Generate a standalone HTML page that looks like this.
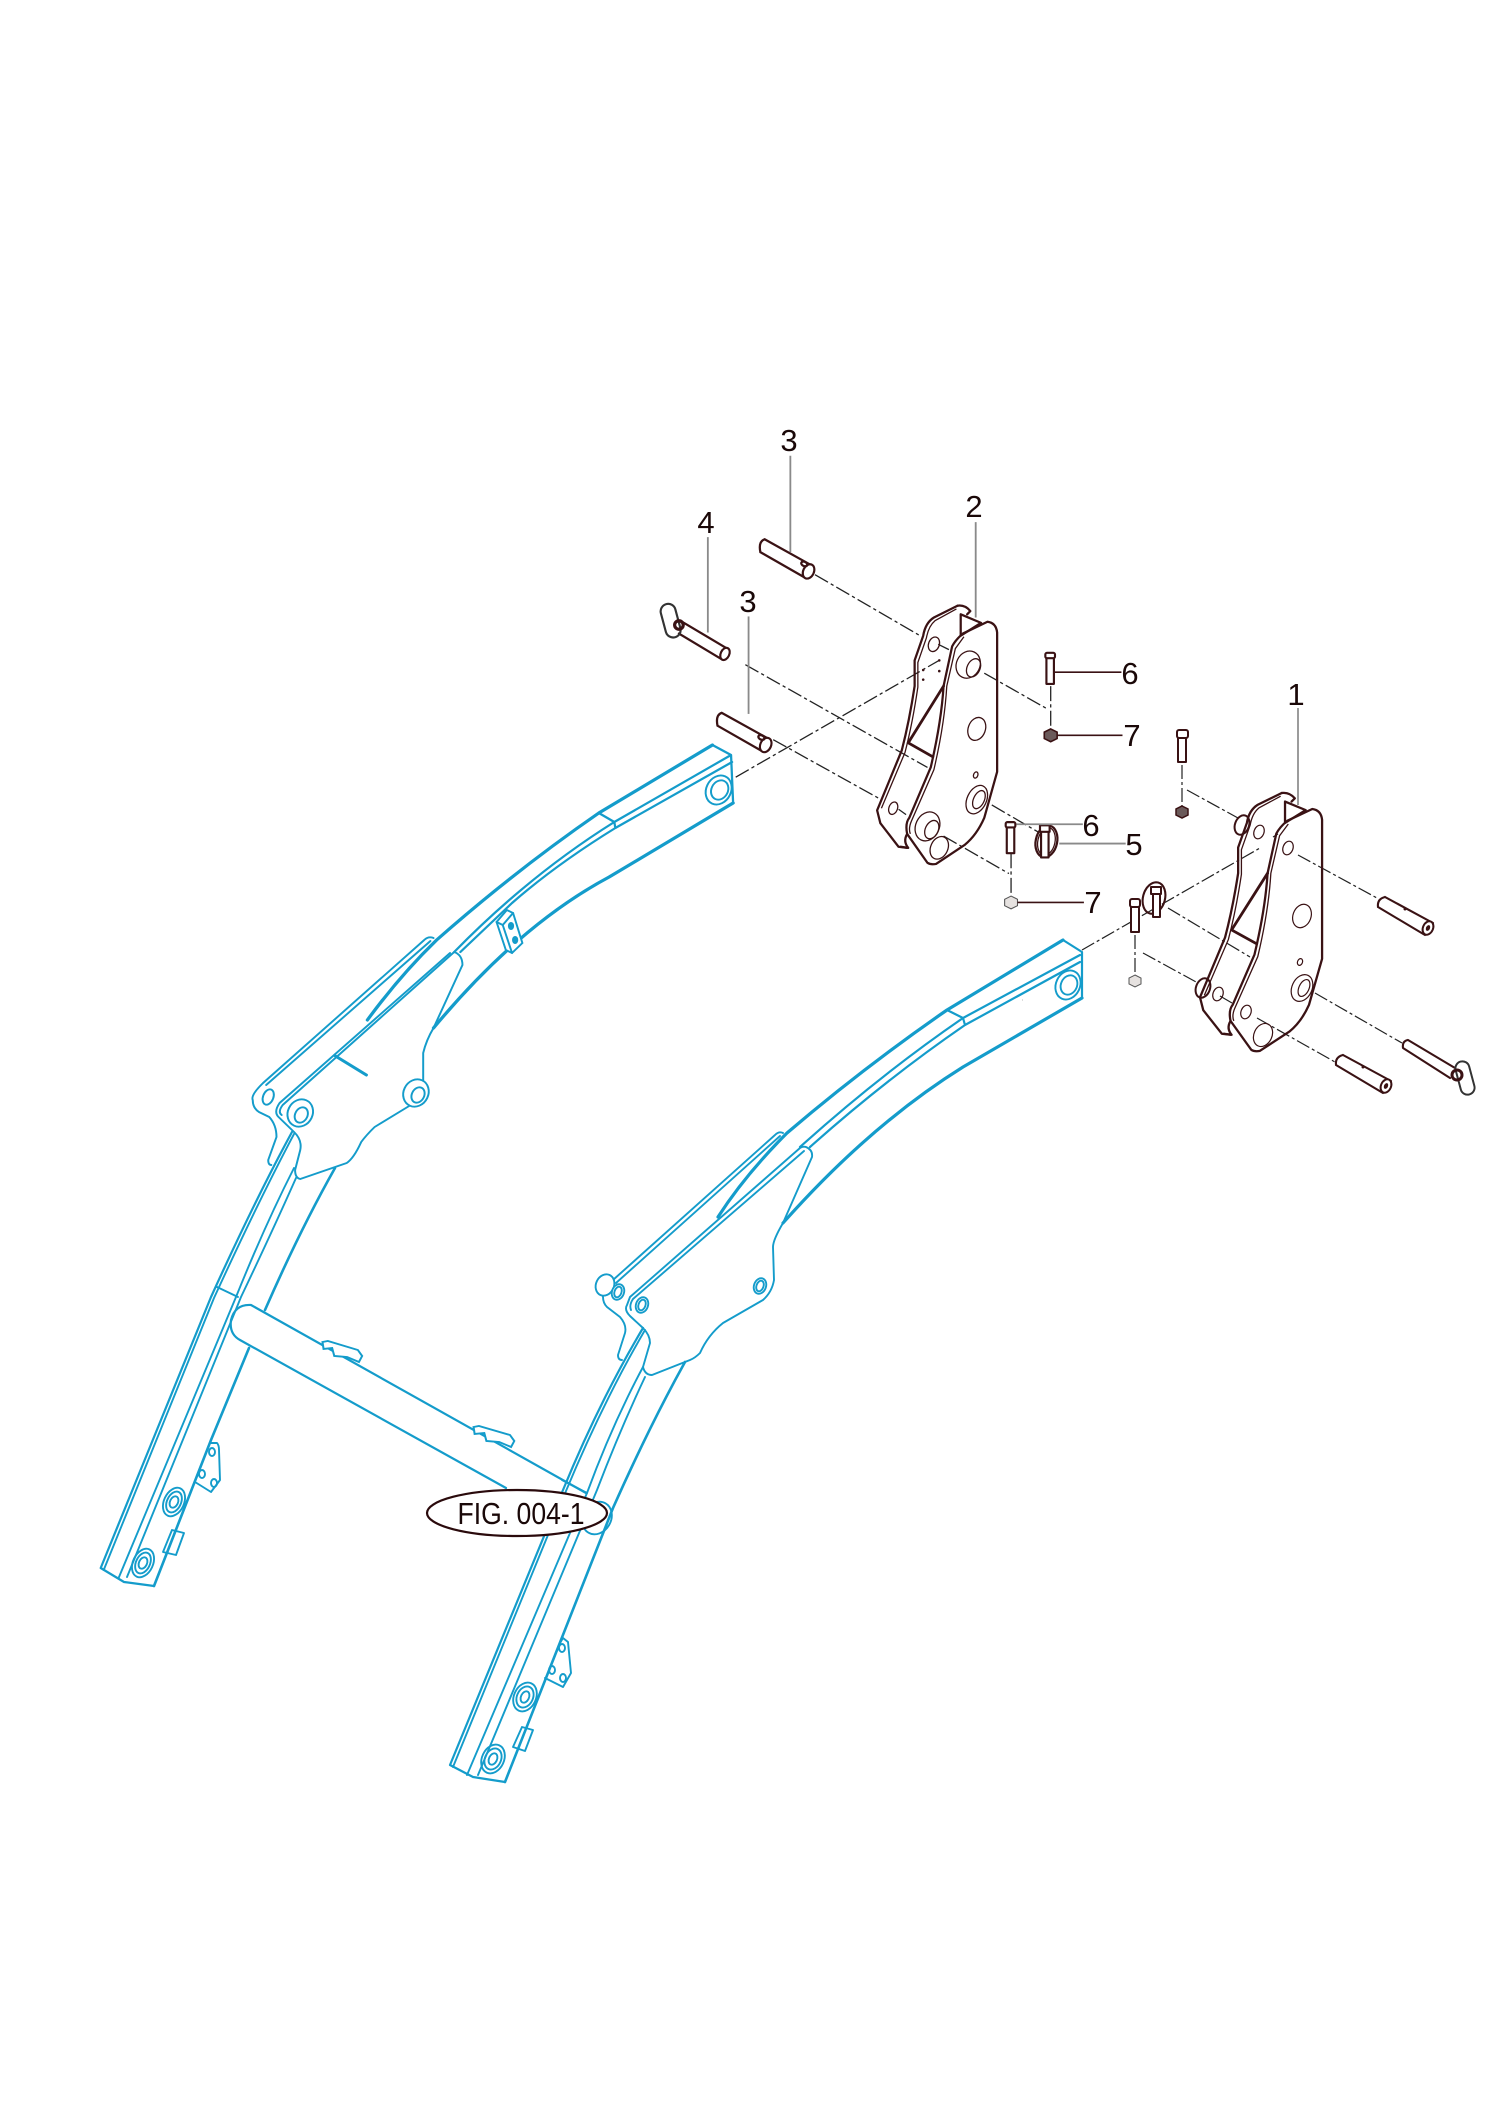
<!DOCTYPE html>
<html><head><meta charset="utf-8"><style>
html,body{margin:0;padding:0;background:#fff}
svg{display:block}
.b{fill:none;stroke:#149ccb;stroke-width:1.9;stroke-linejoin:round;stroke-linecap:round}
.bt{fill:none;stroke:#149ccb;stroke-width:3.2;stroke-linejoin:round;stroke-linecap:round}
.w{fill:#fff;stroke:#149ccb;stroke-width:1.9}
.d{fill:none;stroke:#3a1214;stroke-width:2.1;stroke-linejoin:round;stroke-linecap:round}
.dw{fill:#fff;stroke:#3a1214;stroke-width:2;stroke-linejoin:round}
.dn{fill:none;stroke:#3a1214;stroke-width:1.2}
.g{fill:none;stroke:#222;stroke-width:1.2;stroke-dasharray:14 3 3 3}
.lg{stroke:#8a8a8a;stroke-width:1.7}
.ld{stroke:#3a1214;stroke-width:1.5}
text{font-family:"Liberation Sans",sans-serif;font-size:31px;fill:#1a0808;text-anchor:middle}
</style></head><body>
<svg width="1500" height="2121" viewBox="0 0 1500 2121" xmlns="http://www.w3.org/2000/svg">
<defs>
<g id="brk">
<path class="d" d="M935 592 L913 603 Q905 608 903 620 L895 643 L895 667 Q890 700 883 727 L860 783 L863 795 L880 817 L888 818"/>
<path class="dn" d="M934 595 L914 606 Q908 611 906 622 L898 645 L898 668 Q893 702 886 729 L864 781"/>
<path class="d" d="M935 592 Q942 591 947 597 L944 600"/>
<path class="d" d="M938 600 L957 608 L938 620 Z"/>
<path class="d" d="M963 607 Q971 608 972 617 L972 747 L960 790 Q953 806 942 815 L915 833 Q910 834 907 832 L888 805 Q886 795 890 790 L910 743 Q920 700 922 667 L930 630 Q933 624 940 618 L963 607 Z"/>
<path class="dn" d="M941 621 L933 632 L925 667 Q923 702 913 745 L892 793 Q889 800 891 805"/>
<path class="d" d="M922 667 L889 720 L912 733" style="stroke-width:2.6"/>
<path class="d" d="M888 805 Q884 812 889 818 L882 817"/>
</g>
</defs>

<!-- dashed lines: right side -->
<g class="g">
<path d="M1022 1000 L1022 1000"/>
<path d="M1082 950 L1260 848 M1273 837 L1278 834"/>
<path d="M1187 790 L1238 818 M1298 855 L1377 898"/>
<path d="M1168 908 L1250 957 M1315 993 L1402 1043"/>
<path d="M1143 953 L1198 983 M1220 996 L1232 1003 M1257 1018 L1335 1062"/>
<path d="M1182 765 V808 M1135 935 V977"/>
</g>

<!-- LEFT ARM upper -->
<g transform="translate(230 0) scale(1.0331 1) translate(-230 0)">
<path class="bt" d="M697 745 L587 813 Q507 870 430 940 Q395 975 363 1020"/>
<path class="bt" d="M717 803 L597 877 Q510 925 427 1028"/>
<path class="b" style="stroke-width:2.2" d="M697 745 L715 755 L717 803 M715 755 L602 822 Q520 875 447 952 M716 762 L603 828 Q545 865 503 903 L453 952 M587 813 L602 822 L603 828"/>
<ellipse class="b" cx="703" cy="790" rx="12" ry="15" transform="rotate(25 703 790)"/>
<ellipse class="b" cx="704" cy="790" rx="8" ry="10" transform="rotate(25 704 790)"/>
<path class="w" d="M488 922 L498 910 L504 913 L513 943 L503 953 L497 950 Z"/>
<path class="b" d="M488 922 L494 925 L503 953 M494 925 L504 913"/>
<ellipse cx="502" cy="926" rx="3" ry="4" fill="#149ccb"/><ellipse cx="506" cy="940" rx="3" ry="4" fill="#149ccb"/>
<path class="b" d="M427 938 Q422 936 418 940 L262 1083 Q250 1095 252 1100 Q252 1108 258 1112 L268 1117 Q275 1125 275 1137 L267 1160 Q267 1165 270 1165"/>
<path class="b" d="M424 941 L265 1085"/>
<path class="b" d="M447 952 Q455 955 455 965 L427 1028 Q420 1040 417 1053 L417 1083"/>
<path class="b" d="M443 953 L278 1103 Q272 1112 277 1117 L292 1132 Q300 1140 298 1150 L293 1170 Q293 1178 298 1179 L343 1163 Q350 1158 357 1142 Q362 1135 370 1127 L405 1105"/>
<path class="b" d="M447 952 L281 1105 Q276 1112 280 1115"/>
<path class="b" style="stroke-width:3" d="M332 1056 L362 1075"/>
<ellipse class="b" cx="267" cy="1097" rx="5" ry="8" transform="rotate(20 267 1097)"/>
<ellipse class="w" cx="410" cy="1093" rx="12" ry="14" transform="rotate(25 410 1093)"/>
<ellipse class="b" cx="412" cy="1095" rx="6" ry="8" transform="rotate(25 412 1095)"/>
<ellipse class="w" cx="298" cy="1113" rx="12" ry="14" transform="rotate(25 298 1113)"/>
<ellipse class="b" cx="299" cy="1115" rx="6" ry="8" transform="rotate(25 299 1115)"/>
</g>

<!-- LEFT ARM lower -->
<g>
<path class="b" style="stroke-width:2.2" d="M292 1132 Q255 1200 211 1297 L100.7 1568 L124 1582 L154 1586"/>
<path class="b" d="M294 1134 Q258 1202 214 1298 L103.7 1570"/>
<path class="b" d="M294 1168 Q265 1225 236 1297 L118.6 1578"/>
<path class="b" d="M296 1178 Q272 1232 241 1297 L127 1577"/>
<path class="b" d="M217 1287 L238 1297"/>
<path class="bt" style="stroke-width:2.6" d="M335 1168 Q300 1230 265 1310 M249 1348 L211 1440 L154 1586"/>
<ellipse class="b" cx="174" cy="1502" rx="10" ry="15" transform="rotate(25 174 1502)"/><ellipse class="b" cx="174" cy="1502" rx="7" ry="11" transform="rotate(25 174 1502)"/><ellipse class="b" cx="174" cy="1502" rx="4" ry="6" transform="rotate(25 174 1502)"/>
<ellipse class="b" cx="143" cy="1563" rx="10" ry="15" transform="rotate(25 143 1563)"/><ellipse class="b" cx="143" cy="1563" rx="7" ry="11" transform="rotate(25 143 1563)"/><ellipse class="b" cx="143" cy="1563" rx="4" ry="6" transform="rotate(25 143 1563)"/>
<path class="b" d="M211 1443 L217 1443 Q219 1445 219 1450 L220 1480 L211 1492 L195 1482"/>
<ellipse class="b" cx="212" cy="1452" rx="3" ry="4"/><ellipse class="b" cx="202" cy="1474" rx="3" ry="4"/><ellipse class="b" cx="214" cy="1483" rx="3" ry="4"/>
<path class="b" d="M172 1530 L184 1533 L176 1555 L163 1552 Z"/>
</g>

<!-- CROSS TUBE -->
<path class="b" style="stroke-width:2.2" d="M251 1305 Q235 1304 231 1320 Q229 1334 240 1340 L506 1488 M251 1305 L586 1493"/>
<g transform="translate(90 0) scale(1.0714 1) translate(-90 0)">
<path class="w" d="M307 1342 L312 1341 L340 1350 L344 1356 L341 1362 L330 1357 L318 1356 L316 1348 L308 1349 Z"/>
<path class="w" d="M448 1427 L453 1426 L482 1435 L486 1441 L483 1447 L472 1442 L460 1441 L458 1433 L449 1434 Z"/>
</g>

<!-- RIGHT ARM -->
<g>
<path class="bt" d="M1063 940 L947 1010 Q863 1068 787 1133 Q745 1175 718 1217"/>
<path class="bt" d="M1082 998 L963 1067 Q870 1125 783 1223"/>
<path class="b" style="stroke-width:2.2" d="M1063 940 L1082 952 L1082 998 M1080 955 L963 1018 Q880 1075 800 1147 M1080 962 L965 1025 Q885 1080 810 1147 M947 1010 L963 1018 L965 1025"/>
<ellipse class="b" cx="1068" cy="985" rx="12" ry="15" transform="rotate(25 1068 985)"/>
<ellipse class="b" cx="1069" cy="985" rx="8" ry="10" transform="rotate(25 1069 985)"/>
<path class="b" d="M783 1133 Q779 1131 775 1135 L613 1280 Q602 1292 603 1297 Q603 1303 607 1307 L620 1317 Q627 1325 625 1333 L618 1355 Q618 1360 622 1360"/>
<path class="b" d="M780 1136 L616 1283"/>
<path class="b" d="M806 1147 Q813 1150 812 1157 L783 1223 Q773 1240 773 1247 L774 1280 Q772 1292 763 1300 L723 1323 Q708 1335 700 1353 Q695 1358 690 1360 L652 1375 Q645 1375 643 1367 L650 1343 Q650 1335 643 1328 L630 1316 Q624 1310 627 1305 L630 1297 L800 1148 Q803 1146 806 1147 Z"/>
<path class="b" d="M804 1151 L633 1299 Q629 1305 631 1310"/>
<ellipse class="w" cx="605" cy="1285" rx="9" ry="11" transform="rotate(25 605 1285)"/>
<ellipse class="w" cx="618" cy="1292" rx="6" ry="8" transform="rotate(20 618 1292)"/>
<ellipse class="b" cx="618" cy="1292" rx="3.5" ry="5.5" transform="rotate(20 618 1292)"/>
<ellipse class="b" cx="642" cy="1305" rx="6" ry="8" transform="rotate(20 642 1305)"/>
<ellipse class="b" cx="642" cy="1305" rx="3.5" ry="5.5" transform="rotate(20 642 1305)"/>
<ellipse class="b" cx="760" cy="1286" rx="6" ry="8" transform="rotate(20 760 1286)"/>
<ellipse class="b" cx="760" cy="1286" rx="3.5" ry="5.5" transform="rotate(20 760 1286)"/>
<!-- lower right -->
<path class="b" style="stroke-width:2.2" d="M643 1328 Q600 1400 563 1490 L450 1765 L473 1777 L505 1782"/>
<path class="b" d="M645 1330 Q603 1402 566 1491 L453 1767"/>
<path class="b" d="M643 1367 Q612 1425 587 1493 L467 1775"/>
<path class="b" d="M645 1377 Q620 1430 597 1490 L478 1775"/>
<path class="b" d="M562 1480 L587 1493"/>
<path class="bt" style="stroke-width:2.6" d="M685 1362 Q650 1425 613 1508 L505 1782"/>
<ellipse class="b" cx="597" cy="1518" rx="14" ry="17" transform="rotate(30 597 1518)"/>
<ellipse class="b" cx="525" cy="1697" rx="11" ry="15" transform="rotate(25 525 1697)"/><ellipse class="b" cx="525" cy="1697" rx="8" ry="11" transform="rotate(25 525 1697)"/><ellipse class="b" cx="525" cy="1697" rx="4" ry="6" transform="rotate(25 525 1697)"/>
<ellipse class="b" cx="493" cy="1759" rx="11" ry="15" transform="rotate(25 493 1759)"/><ellipse class="b" cx="493" cy="1759" rx="8" ry="11" transform="rotate(25 493 1759)"/><ellipse class="b" cx="493" cy="1759" rx="4" ry="6" transform="rotate(25 493 1759)"/>
<path class="b" d="M560 1643 L563 1638 L568 1642 L571 1673 L563 1687 L545 1678"/>
<ellipse class="b" cx="562" cy="1648" rx="3" ry="4"/><ellipse class="b" cx="552" cy="1670" rx="3" ry="4"/><ellipse class="b" cx="563" cy="1678" rx="3" ry="4"/>
<path class="b" d="M522 1727 L533 1730 L525 1751 L513 1747 Z"/>
</g>

<!-- UPPER-LEFT ASSEMBLY (bracket 2 and its parts) -->
<g transform="translate(620 400) scale(1.0714) translate(-620 -400)">
<g class="g">
<path d="M802 563 L900 620 M917 628 L927 633 M960 655 L1020 689"/>
<path d="M737 647 L907 743 M967 778 L1010 803"/>
<path d="M763 717 L862 772 M880 782 L887 787 M922 807 L983 842"/>
<path d="M728 752 L897 655 L918 643"/>
<path d="M1022 667 V708 M985 823 V863"/>
</g>
<use href="#brk"/>
<g class="dn">
<ellipse cx="913" cy="628" rx="5" ry="7" transform="rotate(20 913 628)"/>
<ellipse cx="875" cy="781" rx="4" ry="6" transform="rotate(20 875 781)"/>
<ellipse cx="945" cy="647" rx="11" ry="13" transform="rotate(25 945 647)"/>
<ellipse cx="950" cy="650" rx="6" ry="9" transform="rotate(25 950 650)"/>
<ellipse cx="953" cy="707" rx="8" ry="11" transform="rotate(20 953 707)"/>
<ellipse cx="952" cy="750" rx="2" ry="3" transform="rotate(20 952 750)"/>
<ellipse cx="953" cy="773" rx="9" ry="14" transform="rotate(25 953 773)"/>
<ellipse cx="955" cy="773" rx="5" ry="9" transform="rotate(25 955 773)"/>
<ellipse cx="907" cy="798" rx="11" ry="14" transform="rotate(25 907 798)"/>
<ellipse cx="911" cy="801" rx="6" ry="9" transform="rotate(25 911 801)"/>
<ellipse cx="918" cy="818" rx="8" ry="11" transform="rotate(25 918 818)"/>
</g>
<g fill="#3a1214"><circle cx="903" cy="652" r="1.2"/><circle cx="918" cy="653" r="1.2"/><circle cx="903" cy="661" r="1.2"/><circle cx="918" cy="643" r="1.2"/></g>
<!-- pins 3 -->
<g id="p3">
<path class="d" d="M755 530 L800 555 M751 542 L793 566 M755 530 Q749 532 751 542"/>
<ellipse class="dw" cx="796" cy="560" rx="5" ry="7" transform="rotate(25 796 560)"/>
<ellipse class="d" cx="792" cy="553" rx="3" ry="2" transform="rotate(25 792 553)"/>
</g>
<use href="#p3" transform="translate(-40 162)"/>
<!-- pin 4 -->
<path class="d" d="M678 607 L720 632 M675 618 L715 642"/>
<ellipse class="dw" cx="718" cy="637" rx="4" ry="6" transform="rotate(25 718 637)"/>
<rect x="660" y="590" width="14" height="32" rx="7" fill="none" stroke="#333" stroke-width="2" transform="rotate(-15 667 605)"/>
<circle cx="675" cy="610" r="4" class="d" style="stroke-width:3"/>
<!-- bolts/nuts -->
<rect class="dw" x="1018" y="640" width="7" height="25"/>
<rect class="dw" x="1017" y="636" width="9" height="5" rx="1.5"/>
<polygon points="1022,707 1028,710 1028,716 1022,719 1016,716 1016,710" fill="#6b5a5a" stroke="#3a1214" stroke-width="1.5"/>
<rect class="dw" x="981" y="798" width="7" height="25"/>
<rect class="dw" x="980" y="794" width="9" height="5" rx="1.5"/>
<polygon points="985,863 991,866 991,872 985,875 979,872 979,866" fill="#e6e2e0" stroke="#555" stroke-width="1"/>
<!-- clip 5 -->
<ellipse class="d" cx="1018" cy="812" rx="10" ry="15" transform="rotate(12 1018 812)"/>
<ellipse class="dn" cx="1018" cy="812" rx="8" ry="13" transform="rotate(12 1018 812)"/>
<rect class="dw" x="1013" y="800" width="7" height="27"/>
<rect class="dw" x="1012" y="797" width="9" height="6"/>
<!-- leaders -->
<line class="lg" x1="779" y1="452" x2="779" y2="542"/>
<line class="lg" x1="952" y1="514" x2="952" y2="603"/>
<line class="lg" x1="702" y1="528" x2="702" y2="617"/>
<line class="lg" x1="740" y1="602" x2="740" y2="693"/>
<line class="ld" x1="1026" y1="654" x2="1088" y2="654"/>
<line class="ld" x1="1028" y1="713" x2="1089" y2="713"/>
<line class="lg" x1="990" y1="796" x2="1052" y2="796"/>
<line class="lg" x1="1030" y1="814" x2="1092" y2="814"/>
<line class="ld" x1="991" y1="869" x2="1053" y2="869"/>
</g>

<!-- BRACKET 1 -->
<ellipse class="dw" cx="1242" cy="825" rx="7" ry="10" transform="rotate(20 1242 825)"/>
<ellipse class="dw" cx="1203" cy="988" rx="7" ry="10" transform="rotate(20 1203 988)"/>
<use href="#brk" transform="translate(1200 793.3) scale(1.09 1.07) translate(-860 -592.3)"/>
<g class="dn">
<ellipse cx="1259" cy="832" rx="5" ry="7" transform="rotate(20 1259 832)"/>
<ellipse cx="1288" cy="848" rx="5" ry="7" transform="rotate(20 1288 848)"/>
<ellipse cx="1218" cy="994" rx="5" ry="7" transform="rotate(20 1218 994)"/>
<ellipse cx="1246" cy="1012" rx="5" ry="7" transform="rotate(20 1246 1012)"/>
<ellipse cx="1302" cy="916" rx="9" ry="12" transform="rotate(20 1302 916)"/>
<ellipse cx="1300" cy="962" rx="2.5" ry="3.5" transform="rotate(20 1300 962)"/>
<ellipse cx="1302" cy="988" rx="10" ry="14" transform="rotate(25 1302 988)"/>
<ellipse cx="1304" cy="988" rx="5" ry="9" transform="rotate(25 1304 988)"/>
<ellipse cx="1263" cy="1035" rx="9" ry="12" transform="rotate(25 1263 1035)"/>
</g>

<!-- right pins -->
<g id="pr">
<path class="d" d="M1385 897 L1433 923 M1378 907 L1425 935 M1385 897 Q1377 899 1378 907"/>
<ellipse class="dw" cx="1428" cy="928" rx="5" ry="7" transform="rotate(25 1428 928)"/>
<ellipse fill="#3a1214" cx="1428" cy="928" rx="2" ry="3" transform="rotate(25 1428 928)"/>
<circle cx="1405" cy="909" r="1.5" fill="#3a1214"/>
</g>
<use href="#pr" transform="translate(-42 158)"/>
<path class="d" d="M1408 1040 L1455 1068 M1403 1048 L1450 1078 M1408 1040 Q1402 1041 1403 1048"/>
<rect x="1458" y="1061" width="14" height="34" rx="7" fill="none" stroke="#333" stroke-width="2" transform="rotate(-15 1465 1078)"/>
<circle cx="1457" cy="1075" r="5" class="d" style="stroke-width:3"/>

<!-- right bolts/nuts/clip -->
<rect class="dw" x="1178" y="737" width="8" height="25"/>
<rect class="dw" x="1177" y="730" width="11" height="8" rx="2"/>
<polygon points="1182,806 1188,809 1188,815 1182,818 1176,815 1176,809" fill="#6b5a5a" stroke="#3a1214" stroke-width="1.5"/>
<rect class="dw" x="1131" y="905" width="8" height="27"/>
<rect class="dw" x="1130" y="899" width="10" height="8" rx="2"/>
<polygon points="1135,975 1141,978 1141,984 1135,987 1129,984 1129,978" fill="#e6e2e0" stroke="#555" stroke-width="1"/>
<ellipse class="d" cx="1154" cy="898" rx="11" ry="16" transform="rotate(15 1154 898)"/>
<rect class="dw" x="1153" y="892" width="7" height="25"/>
<rect class="dw" x="1151" y="887" width="10" height="7"/>

<!-- right leader + labels -->
<line class="lg" x1="1298" y1="708" x2="1298" y2="805"/>
<text x="789" y="451">3</text>
<text x="974" y="517">2</text>
<text x="706" y="533">4</text>
<text x="748" y="612">3</text>
<text x="1130" y="684">6</text>
<text x="1132" y="746">7</text>
<text x="1091" y="836">6</text>
<text x="1134" y="855">5</text>
<text x="1093" y="913">7</text>
<text x="1296" y="705">1</text>

<!-- FIG label -->
<ellipse cx="517" cy="1513" rx="90" ry="23" fill="#fff" stroke="#2a0a0c" stroke-width="2.2"/>
<text x="521" y="1524" style="font-size:31px" textLength="127" lengthAdjust="spacingAndGlyphs">FIG. 004-1</text>
</svg>
</body></html>
